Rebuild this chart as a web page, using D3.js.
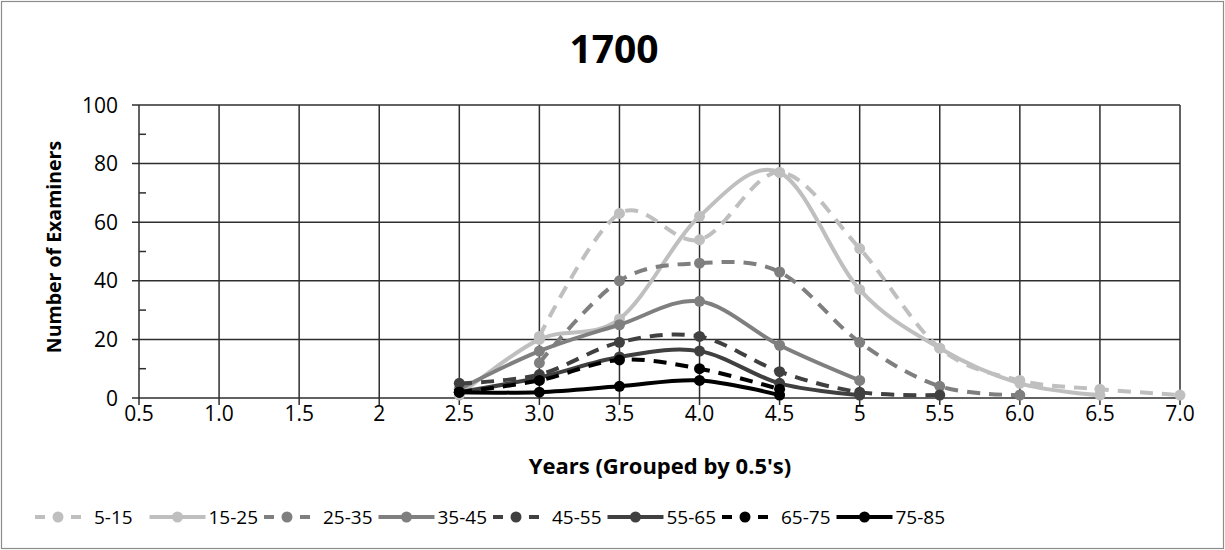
<!DOCTYPE html>
<html>
<head>
<meta charset="utf-8">
<script src="https://cdn.jsdelivr.net/npm/d3@7/dist/d3.min.js"></script>
<style>
  html, body { margin: 0; padding: 0; background: #fff; }
  svg text { font-family: "Open Sans", "DejaVu Sans", sans-serif; fill: #000; }
</style>
</head>
<body>
<svg id="chart" width="1225" height="550"></svg>
<script>
// ── Data ─────────────────────────────────────────────────────────────────────
const categories = ['0.5', '1.0', '1.5', '2', '2.5', '3.0', '3.5', '4.0', '4.5', '5', '5.5', '6.0', '6.5', '7.0'];
const yTicks     = [0, 20, 40, 60, 80, 100];
const yMinor     = [10, 30, 50, 70, 90];

const ageGroups  = ['5-15', '15-25', '25-35', '35-45', '45-55', '55-65', '65-75', '75-85'];
const s5_15   = [null, null, null, null, null, 21, 63, 54, 77, 51, 17, 6, 3, 1];
const s15_25  = [null, null, null, null, 1, 20, 27, 62, 77, 37, 17, 5, 1, null];
const s25_35  = [null, null, null, null, null, 12, 40, 46, 43, 19, 4, 1, null, null];
const s35_45  = [null, null, null, null, 3, 16, 25, 33, 18, 6, null, null, null, null];
const s45_55  = [null, null, null, null, 5, 8, 19, 21, 9, 2, 1, null, null, null];
const s55_65  = [null, null, null, null, 2, 7, 14, 16, 5, 1, null, null, null, null];
const s65_75  = [null, null, null, null, 2, 6, 13, 10, 3, null, null, null, null, null];
const s75_85  = [null, null, null, null, 2, 2, 4, 6, 1, null, null, null, null, null];
const seriesValues = [s5_15, s15_25, s25_35, s35_45, s45_55, s55_65, s65_75, s75_85];

// ── Styles ───────────────────────────────────────────────────────────────────
const COLORS  = ['#bfbfbf', '#bfbfbf', '#7f7f7f', '#7f7f7f', '#404040', '#404040', '#000000', '#000000'];
const DASHED  = [true, false, true, false, true, false, true, false];
const LINE_W  = 4;
const DOT_R   = 5.5;

// ── Layout ───────────────────────────────────────────────────────────────────
const W = 1225, H = 550;
const PLOT = { left: 139, right: 1180, top: 105, bottom: 398 };

const svg = d3.select('#chart');

svg.append('rect')
  .attr('x', 1.5).attr('y', 1.5).attr('width', W - 3).attr('height', H - 3)
  .attr('fill', '#fff').attr('stroke', '#8c8c8c').attr('stroke-width', 1.2);

const x = d3.scalePoint().domain(categories).range([PLOT.left, PLOT.right]);
const y = d3.scaleLinear().domain([0, 100]).range([PLOT.bottom, PLOT.top]);

// ── Grid ─────────────────────────────────────────────────────────────────────
const grid = svg.append('g').attr('stroke', '#2e2e2e').attr('stroke-width', 1.5);
yTicks.forEach(t => {
  grid.append('line')
    .attr('x1', PLOT.left - 7).attr('x2', PLOT.right)
    .attr('y1', y(t)).attr('y2', y(t));
});
yMinor.forEach(t => {
  grid.append('line')
    .attr('x1', PLOT.left).attr('x2', PLOT.left + 7)
    .attr('y1', y(t)).attr('y2', y(t));
});
categories.forEach(c => {
  grid.append('line')
    .attr('x1', x(c)).attr('x2', x(c))
    .attr('y1', PLOT.top).attr('y2', PLOT.bottom + 7);
});

// ── Axis labels ──────────────────────────────────────────────────────────────
svg.append('g').selectAll('text')
  .data(yTicks).join('text')
  .attr('x', 118).attr('y', d => y(d) + 7.5)
  .attr('text-anchor', 'end')
  .attr('font-size', 21)
  .text(d => d);

svg.append('g').selectAll('text')
  .data(categories).join('text')
  .attr('x', d => x(d)).attr('y', 421)
  .attr('text-anchor', 'middle')
  .attr('font-size', 21)
  .text(d => d);

svg.append('text')
  .attr('x', 614).attr('y', 63)
  .attr('text-anchor', 'middle')
  .attr('font-size', 39).attr('font-weight', 'bold')
  .text('1700');

svg.append('text')
  .attr('transform', 'translate(61,247) rotate(-90)')
  .attr('text-anchor', 'middle')
  .attr('font-size', 19.5).attr('font-weight', 'bold')
  .text('Number of Examiners');

svg.append('text')
  .attr('x', 660).attr('y', 474)
  .attr('text-anchor', 'middle')
  .attr('font-size', 22).attr('font-weight', 'bold')
  .text("Years (Grouped by 0.5's)");

// ── Series ───────────────────────────────────────────────────────────────────
const line = d3.line()
  .defined(d => d.v != null)
  .x(d => x(d.c))
  .y(d => y(d.v))
  .curve(d3.curveCatmullRom.alpha(0));

const seriesG = svg.append('g');
seriesValues.forEach((vals, i) => {
  const pts = vals.map((v, j) => ({ c: categories[j], v }));
  const g = seriesG.append('g');
  g.append('path')
    .datum(pts)
    .attr('d', line)
    .attr('fill', 'none')
    .attr('stroke', COLORS[i])
    .attr('stroke-width', LINE_W)
    .attr('stroke-dasharray', DASHED[i] ? '13,9' : null);
  g.selectAll('circle')
    .data(pts.filter(p => p.v != null))
    .join('circle')
    .attr('cx', d => x(d.c)).attr('cy', d => y(d.v))
    .attr('r', DOT_R)
    .attr('fill', COLORS[i]);
});

// ── Legend ───────────────────────────────────────────────────────────────────
const LEG_X0 = 35, LEG_STEP = 114.5, LEG_Y = 517;
const legend = svg.append('g');
ageGroups.forEach((name, i) => {
  const x0 = LEG_X0 + i * LEG_STEP;
  const g = legend.append('g');
  if (DASHED[i]) {
    g.append('line')
      .attr('x1', x0).attr('x2', x0 + 46)
      .attr('y1', LEG_Y).attr('y2', LEG_Y)
      .attr('stroke', COLORS[i]).attr('stroke-width', LINE_W)
      .attr('stroke-dasharray', '10,8');
    g.append('circle').attr('cx', x0 + 23).attr('cy', LEG_Y).attr('r', DOT_R).attr('fill', COLORS[i]);
  } else {
    g.append('line')
      .attr('x1', x0).attr('x2', x0 + 56)
      .attr('y1', LEG_Y).attr('y2', LEG_Y)
      .attr('stroke', COLORS[i]).attr('stroke-width', LINE_W);
    g.append('circle').attr('cx', x0 + 28).attr('cy', LEG_Y).attr('r', DOT_R).attr('fill', COLORS[i]);
  }
  g.append('text')
    .attr('x', x0 + 59).attr('y', LEG_Y + 7)
    .attr('font-size', 19)
    .text(name);
});
</script>
</body>
</html>
